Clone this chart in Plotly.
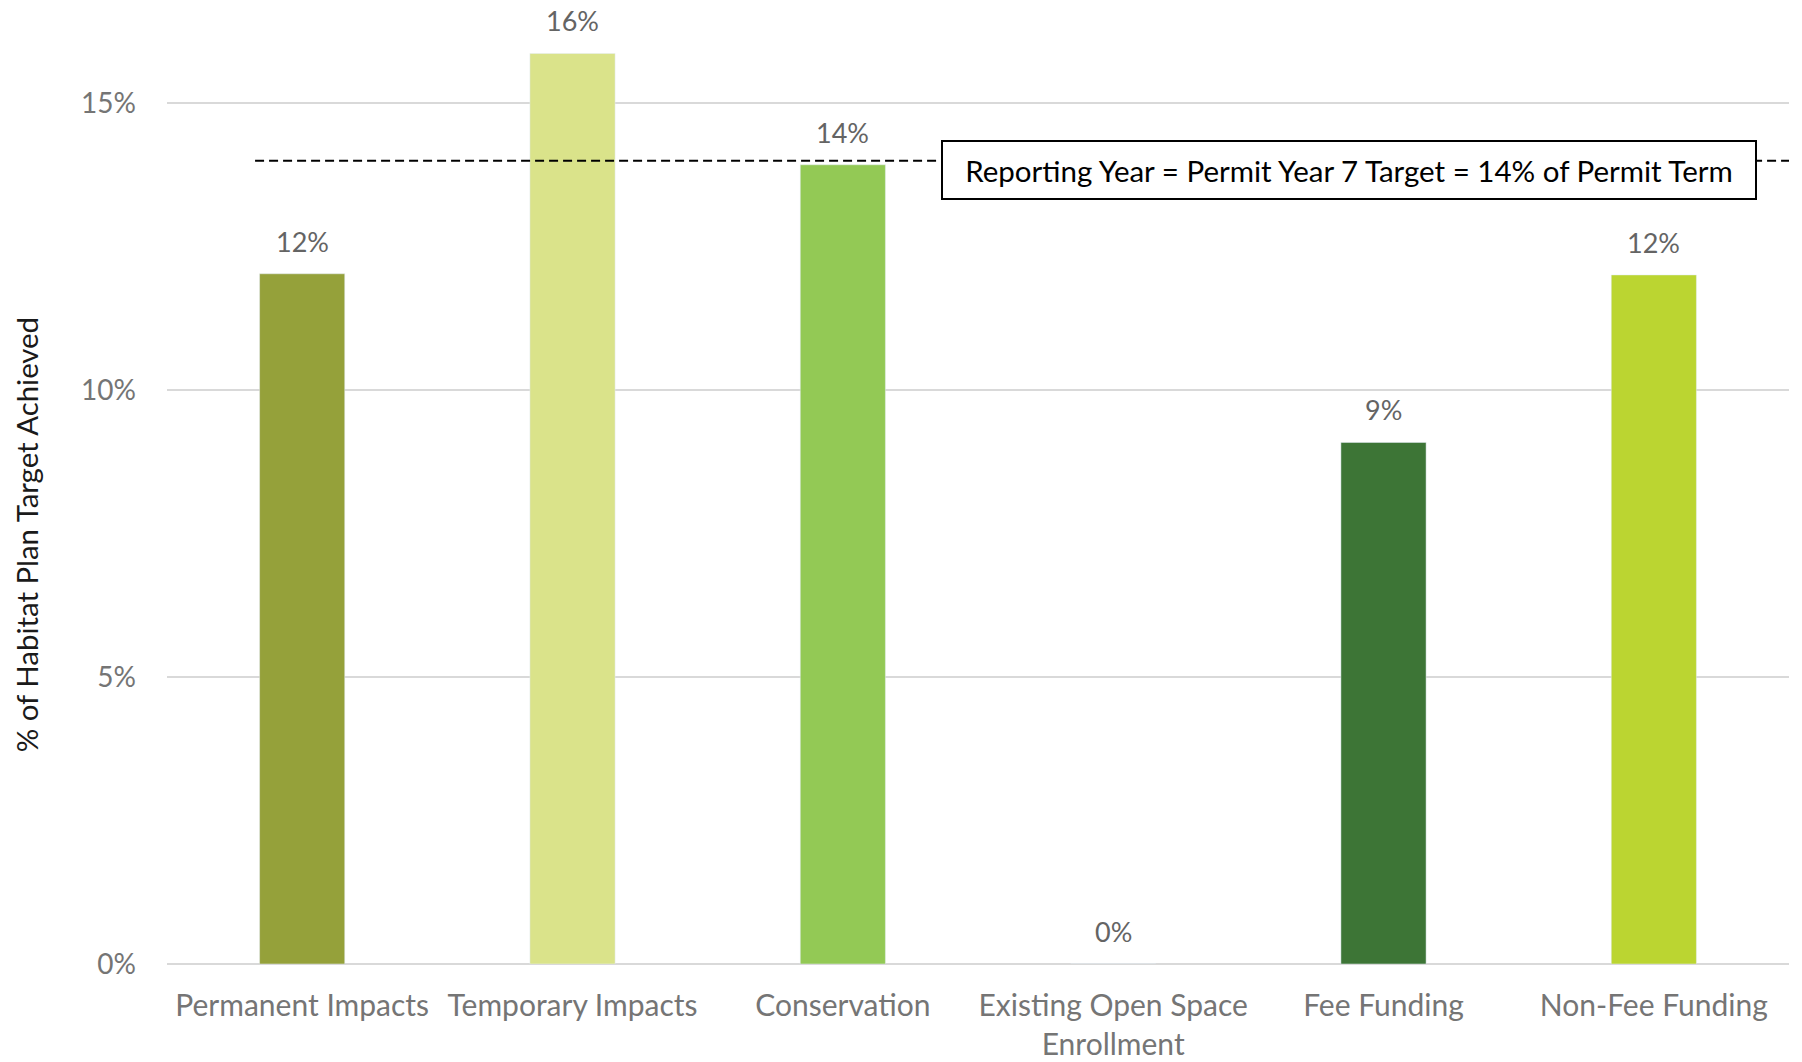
import plotly.graph_objects as go

categories = ["Permanent Impacts", "Temporary Impacts", "Conservation",
              "Existing Open Space<br>Enrollment", "Fee Funding", "Non-Fee Funding"]
pct_achieved = [12.03, 15.87, 13.93, 0.0, 9.09, 12.01]
bar_colors = ["#95A13A", "#DAE38A", "#93C955", "#93C955", "#3D7536", "#BBD531"]
target_pct = 14
target_text = "Reporting Year = Permit Year 7 Target = 14% of Permit Term"
y_title = "% of Habitat Plan Target Achieved"
y_ticks = [0, 5, 10, 15]

FONT = "Lato"
GRAY = "#757575"
LABEL_GRAY = "#646464"

fig = go.Figure()
fig.add_trace(go.Bar(
    x=categories, y=pct_achieved, marker_color=bar_colors,
    width=0.315, hoverinfo="skip", showlegend=False,
))

# value labels above each bar
for cat, val in zip(categories, pct_achieved):
    fig.add_annotation(
        x=cat, y=val, xref="x", yref="y", text=f"{val:.0f}%",
        showarrow=False, yanchor="bottom", yshift=14,
        font=dict(family=FONT, size=27, color=LABEL_GRAY),
    )

# target reference line
fig.add_shape(
    type="line", xref="paper", yref="y", x0=0.0543, x1=1.0,
    y0=target_pct, y1=target_pct, layer="above",
    line=dict(color="black", width=2, dash="9px,5px"),
)
fig.add_annotation(
    x=0.729, y=target_pct, xref="paper", yref="y", text=target_text,
    showarrow=False, xanchor="center", yanchor="middle", yshift=-9,
    font=dict(family=FONT, size=29.5, color="black"),
    bgcolor="white", bordercolor="black", borderwidth=2,
    width=800, height=44, borderpad=6,
)

# vertical axis title
fig.add_annotation(
    x=-0.0869, y=0.467, xref="paper", yref="paper", text=y_title,
    textangle=-90, showarrow=False, xanchor="center", yanchor="middle",
    font=dict(family=FONT, size=29.4, color="#1a1a1a"),
)

fig.update_layout(
    width=1802, height=1062,
    margin=dict(l=167, r=13, t=46, b=98, autoexpand=False),
    paper_bgcolor="white", plot_bgcolor="white",
    bargap=0.685,
    font=dict(family=FONT, size=27, color=GRAY),
)
fig.update_yaxes(
    range=[0, 16], tickvals=y_ticks, ticktext=[f"{t}%" for t in y_ticks],
    showgrid=True, gridcolor="#d9d9d9", gridwidth=2,
    zeroline=True, zerolinecolor="#d9d9d9", zerolinewidth=2,
    showline=False, ticks="", ticklabelstandoff=30, automargin=False,
    tickfont=dict(family=FONT, size=28, color=GRAY),
)
fig.update_xaxes(
    showgrid=False, showline=False, ticks="", ticklabelstandoff=21,
    automargin=False,
    tickfont=dict(family=FONT, size=30, color=GRAY),
)

fig.write_html("out.html")
